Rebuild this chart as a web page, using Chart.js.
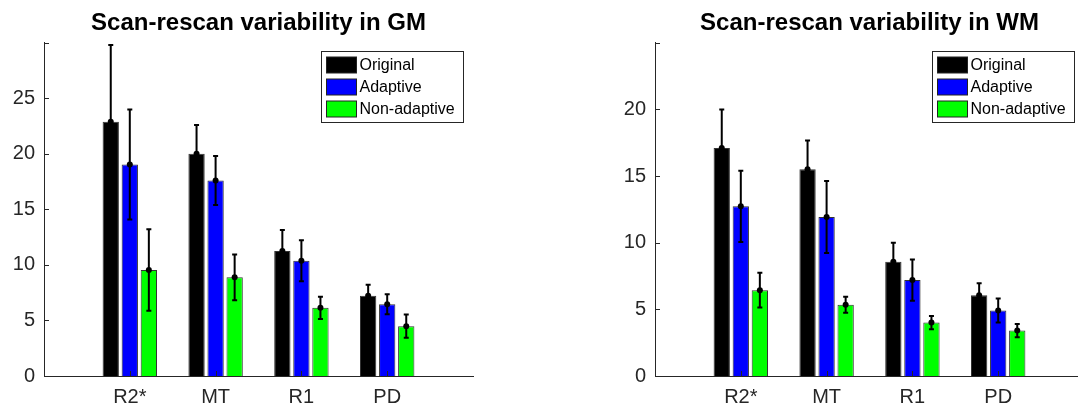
<!DOCTYPE html>
<html>
<head>
<meta charset="utf-8">
<script src="https://cdn.jsdelivr.net/npm/chart.js@4"></script>
<style>
  html, body { margin: 0; padding: 0; background: #fff; overflow: hidden; width: 1078px; height: 405px; }
  .panel { position: absolute; top: 0; height: 405px; }
  #leftPanel { left: 0; width: 540px; }
  #rightPanel { left: 540px; width: 560px; }
</style>
</head>
<body>
<div class="panel" id="leftPanel"><canvas id="gmChart" width="540" height="405"></canvas></div>
<div class="panel" id="rightPanel"><canvas id="wmChart" width="560" height="405"></canvas></div>
<script>
// categories and series
const categories = ['R2*', 'MT', 'R1', 'PD'];
const seriesNames = ['Original', 'Adaptive', 'Non-adaptive'];
const seriesColors = ['#000000', '#0000ff', '#00ff00'];

// GM values (mean and error)
const gmOriginal = [22.9, 20.0, 11.25, 7.22];
const gmOriginalErr = [6.9, 2.6, 1.9, 1.0];
const gmAdaptive = [19.05, 17.6, 10.38, 6.47];
const gmAdaptiveErr = [4.95, 2.2, 1.85, 0.9];
const gmNonAdaptive = [9.54, 8.88, 6.14, 4.49];
const gmNonAdaptiveErr = [3.67, 2.05, 1.0, 1.05];

// WM values (mean and error)
const wmOriginal = [17.1, 15.52, 8.57, 6.05];
const wmOriginalErr = [2.9, 2.15, 1.43, 0.9];
const wmAdaptive = [12.73, 11.93, 7.2, 4.92];
const wmAdaptiveErr = [2.67, 2.7, 1.55, 0.9];
const wmNonAdaptive = [6.44, 5.34, 4.01, 3.41];
const wmNonAdaptiveErr = [1.3, 0.6, 0.5, 0.5];

// y axis ranges
const gmYMax = 30;
const wmYMax = 25;
const yStep = 5;

const FONT = '"Liberation Sans", Arial, Helvetica, sans-serif';
const AXIS_COLOR = '#262626';

// empty slot on each side so groups sit at 1..4 on a 0..5 axis
const pad = arr => [null, ...arr, null];

// error bars with a dot at the mean, drawn over the bars
const errorBars = {
  id: 'errorBars',
  afterDatasetsDraw(chart, args, opts) {
    const ctx = chart.ctx;
    const ys = chart.scales.y;
    ctx.save();
    ctx.strokeStyle = '#000';
    ctx.fillStyle = '#000';
    ctx.lineWidth = 2;
    chart.data.datasets.forEach((ds, i) => {
      const meta = chart.getDatasetMeta(i);
      meta.data.forEach((bar, j) => {
        const v = ds.data[j];
        if (v == null) return;
        const e = opts.errors[i][j];
        const yTop = ys.getPixelForValue(v + e);
        const yBot = ys.getPixelForValue(v - e);
        const yMid = ys.getPixelForValue(v);
        ctx.beginPath();
        ctx.moveTo(bar.x, yTop);
        ctx.lineTo(bar.x, yBot);
        ctx.moveTo(bar.x - 2.5, yTop);
        ctx.lineTo(bar.x + 2.5, yTop);
        ctx.moveTo(bar.x - 2.5, yBot);
        ctx.lineTo(bar.x + 2.5, yBot);
        ctx.stroke();
        ctx.beginPath();
        ctx.arc(bar.x, yMid, 3, 0, Math.PI * 2);
        ctx.fill();
      });
    });
    ctx.restore();
  }
};

// inward tick marks and boxed legend inside the plot
const axesExtras = {
  id: 'axesExtras',
  afterDraw(chart) {
    const ctx = chart.ctx;
    const area = chart.chartArea;
    const xs = chart.scales.x, ys = chart.scales.y;
    ctx.save();
    ctx.strokeStyle = AXIS_COLOR;
    ctx.lineWidth = 1;
    ctx.beginPath();
    ys.ticks.forEach(t => {
      const y = Math.round(ys.getPixelForValue(t.value)) + 0.5;
      ctx.moveTo(area.left, y);
      ctx.lineTo(area.left + 5, y);
    });
    categories.forEach((c, k) => {
      const x = Math.round(xs.getPixelForValue(k + 1)) + 0.5;
      ctx.moveTo(x, area.bottom);
      ctx.lineTo(x, area.bottom - 5);
    });
    ctx.stroke();

    // legend
    ctx.font = '16px ' + FONT;
    const textW = Math.max(...seriesNames.map(n => ctx.measureText(n).width));
    const boxW = Math.ceil(5 + 30 + 3 + textW + 8);
    const boxH = 71;
    const bx = Math.round(area.right - 10 - boxW) + 0.5;
    const by = Math.round(area.top + 8) + 0.5;
    ctx.fillStyle = '#fff';
    ctx.fillRect(bx, by, boxW, boxH);
    ctx.strokeStyle = '#262626';
    ctx.strokeRect(bx, by, boxW, boxH);
    seriesNames.forEach((name, k) => {
      const cy = by + 13.5 + k * 22;
      ctx.fillStyle = seriesColors[k];
      ctx.fillRect(bx + 5, cy - 8, 30, 16);
      ctx.strokeStyle = '#222';
      ctx.strokeRect(bx + 5, cy - 8, 30, 16);
      ctx.fillStyle = '#000';
      ctx.textBaseline = 'middle';
      ctx.textAlign = 'left';
      ctx.fillText(name, bx + 38, cy + 1);
    });
    ctx.restore();
  }
};

function makeChart(canvasId, title, values, errors, yMax, padRight, yWidth) {
  return new Chart(document.getElementById(canvasId), {
    type: 'bar',
    data: {
      labels: ['', ...categories, ''],
      datasets: seriesNames.map((name, k) => ({
        label: name,
        data: pad(values[k]),
        backgroundColor: seriesColors[k],
        borderColor: '#333333',
        borderWidth: 1,
        categoryPercentage: 0.666,
        barPercentage: 0.856
      }))
    },
    options: {
      responsive: false,
      animation: false,
      layout: { padding: { left: 0, right: padRight, top: 0, bottom: 0 } },
      plugins: {
        legend: { display: false },
        tooltip: { enabled: false },
        title: {
          display: true,
          fullSize: false,
          text: title,
          color: '#000',
          font: { family: FONT, size: 24, weight: 'bold' },
          padding: { top: 9, bottom: 5 }
        },
        errorBars: { errors: errors.map(pad) }
      },
      scales: {
        x: {
          offset: false,
          grid: { display: false, drawTicks: false },
          border: { display: true, color: AXIS_COLOR, width: 1 },
          ticks: {
            color: AXIS_COLOR,
            font: { family: FONT, size: 20 },
            padding: 9,
            autoSkip: false,
            maxRotation: 0
          },
          afterFit: s => { s.height = 29; }
        },
        y: {
          min: 0,
          max: yMax,
          grid: { display: false, drawTicks: false },
          border: { display: true, color: AXIS_COLOR, width: 1 },
          ticks: {
            stepSize: yStep,
            color: AXIS_COLOR,
            font: { family: FONT, size: 20 },
            padding: 9,
            callback: v => (v === yMax ? '' : v)
          },
          afterFit: s => { s.width = yWidth; }
        }
      }
    },
    plugins: [errorBars, axesExtras]
  });
}

makeChart('gmChart', 'Scan-rescan variability in GM',
  [gmOriginal, gmAdaptive, gmNonAdaptive],
  [gmOriginalErr, gmAdaptiveErr, gmNonAdaptiveErr],
  gmYMax, 67, 44);

makeChart('wmChart', 'Scan-rescan variability in WM',
  [wmOriginal, wmAdaptive, wmNonAdaptive],
  [wmOriginalErr, wmAdaptiveErr, wmNonAdaptiveErr],
  wmYMax, 16, 115);
</script>
</body>
</html>
